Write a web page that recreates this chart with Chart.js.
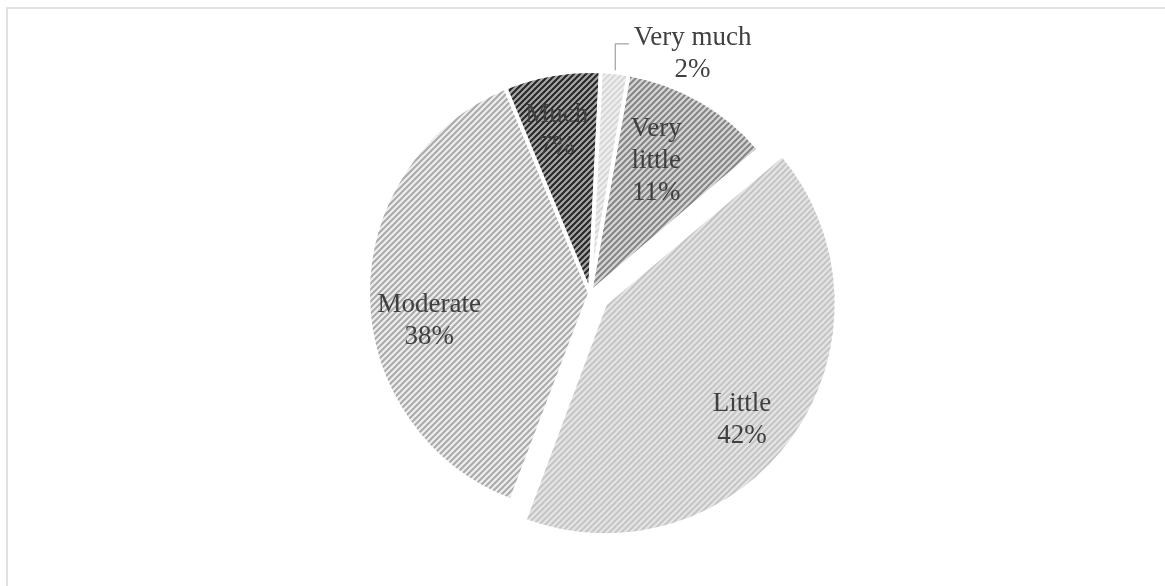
<!DOCTYPE html>
<html>
<head>
<meta charset="utf-8">
<script src="https://cdn.jsdelivr.net/npm/chart.js@4.4.1/dist/chart.umd.min.js"></script>
<style>
  html, body { margin: 0; padding: 0; background: #ffffff; overflow: hidden; }
  #wrap { position: relative; width: 1165px; height: 586px; }
  #frame { position: absolute; left: 6px; top: 7px; width: 1200px; height: 620px;
           border-top: 2px solid #e2e2e2; border-left: 2px solid #e2e2e2; box-sizing: border-box; }
  canvas { position: absolute; left: 0; top: 0; }
</style>
</head>
<body>
<div id="wrap">
  <div id="frame"></div>
  <canvas id="pie" width="1165" height="586"></canvas>
</div>
<script>
// Survey answer categories and their share of responses (%)
const categories = ['Very little', 'Little', 'Moderate', 'Much', 'Very much'];
const shares = [11, 42, 38, 7, 2];

// Hatched fills: [background, stripe colour] per slice
const fills = [
  ['#d6d6d6', '#858585'],
  ['#e8e8e8', '#c2c2c2'],
  ['#eeeeee', '#aaaaaa'],
  ['#a6a6a6', '#252525'],
  ['#efefef', '#d6d6d6']
];

// Where each label sits: fraction of radius along the slice bisector, plus an angular nudge (deg)
const labelSpots = [
  { frac: 0.665, shift: -3.1, wrap: true },
  { frac: 0.767, shift: 5.5 },
  { frac: 0.735, shift: -9.1 },
  { frac: 0.745, shift: -1.8 },
  { outside: true }
];

function stripes(bg, fg) {
  const size = 6;
  const c = document.createElement('canvas');
  c.width = c.height = size;
  const g = c.getContext('2d');
  g.fillStyle = bg;
  g.fillRect(0, 0, size, size);
  g.strokeStyle = fg;
  g.lineWidth = 2;
  g.beginPath();
  g.moveTo(-1, size + 1); g.lineTo(size + 1, -1);
  g.moveTo(-1, 1); g.lineTo(1, -1);
  g.moveTo(size - 1, size + 1); g.lineTo(size + 1, size - 1);
  g.stroke();
  return g.createPattern(c, 'repeat');
}

const FONT = '27px "Liberation Serif", "Times New Roman", serif';
const INK = '#404040';
const LINE_H = 32;

// Offset a drawn arc is shifted by (mirrors ArcElement.draw)
function arcShift(arc) {
  const p = arc.getProps(['startAngle', 'endAngle', 'circumference']);
  const off = (arc.options.offset || 0) / 4;
  const half = (p.startAngle + p.endAngle) / 2;
  const fix = 1 - Math.sin(Math.min(Math.PI, p.circumference || 0));
  const k = off + off * fix;
  return { dx: Math.cos(half) * k, dy: Math.sin(half) * k, half };
}

const sliceLabels = {
  id: 'sliceLabels',
  afterDatasetsDraw(chart) {
    const ctx = chart.ctx;
    const meta = chart.getDatasetMeta(0);
    ctx.save();
    ctx.font = FONT;
    ctx.fillStyle = INK;
    ctx.textAlign = 'center';
    ctx.textBaseline = 'middle';
    meta.data.forEach((arc, i) => {
      const spot = labelSpots[i];
      const p = arc.getProps(['x', 'y', 'outerRadius']);
      const s = arcShift(arc);
      const pct = shares[i] + '%';
      if (spot.outside) {
        // leader from the rim straight up, then a short run to the label
        const ax = p.x + Math.cos(s.half) * p.outerRadius;
        const ay = p.y + Math.sin(s.half) * p.outerRadius;
        const ey = ay - 29;
        const ex = ax + 14;
        ctx.strokeStyle = '#8c8c8c';
        ctx.lineWidth = 1;
        ctx.beginPath();
        ctx.moveTo(ax + 0.5, ay - 2);
        ctx.lineTo(ax + 0.5, ey + 0.5);
        ctx.lineTo(ex, ey + 0.5);
        ctx.stroke();
        const w = ctx.measureText(categories[i]).width;
        const cx = ex + 5 + w / 2;
        const cy = ey + 11;
        ctx.fillText(categories[i], cx, cy - LINE_H / 2);
        ctx.fillText(pct, cx, cy + LINE_H / 2);
        return;
      }
      const lines = spot.wrap ? categories[i].split(' ') : [categories[i]];
      lines.push(pct);
      const a = s.half + spot.shift * Math.PI / 180;
      const r = spot.frac * p.outerRadius;
      const cx = p.x + s.dx + Math.cos(a) * r;
      const cy = p.y + s.dy + Math.sin(a) * r;
      const top = cy - (lines.length - 1) * LINE_H / 2;
      lines.forEach((t, j) => ctx.fillText(t, cx, top + j * LINE_H));
    });
    ctx.restore();
  }
};

new Chart(document.getElementById('pie'), {
  type: 'pie',
  data: {
    labels: categories,
    datasets: [{
      data: shares,
      backgroundColor: fills.map(f => stripes(f[0], f[1])),
      borderColor: '#ffffff',
      borderWidth: 4,
      hoverBorderWidth: 4,
      hoverOffset: 0,
      offset: [0, 74, 0, 0, 0]
    }]
  },
  options: {
    responsive: false,
    animation: false,
    rotation: 10,
    layout: { padding: { left: 290, right: 275, top: 32, bottom: 32 } },
    plugins: { legend: { display: false }, tooltip: { enabled: false } },
    events: []
  },
  plugins: [sliceLabels]
});
</script>
</body>
</html>
